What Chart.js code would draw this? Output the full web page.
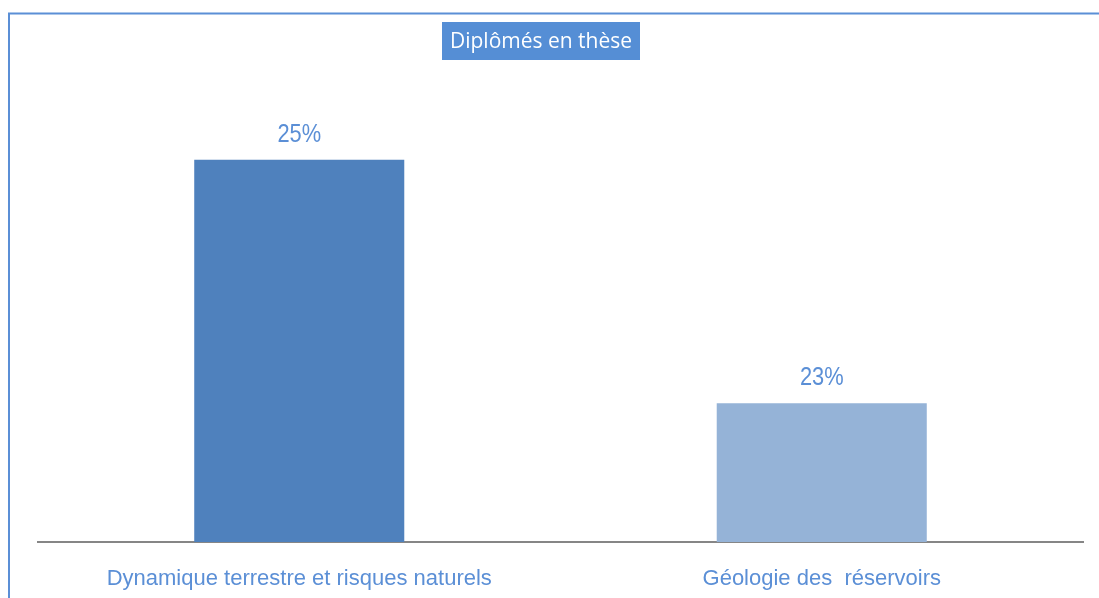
<!DOCTYPE html>
<html>
<head>
<meta charset="utf-8">
<script src="https://cdn.jsdelivr.net/npm/chart.js@4/dist/chart.umd.min.js"></script>
<style>
    html, body { margin: 0; padding: 0; background: #fff; }
    canvas { display: block; }
</style>
</head>
<body>
<canvas id="chart" width="1099" height="598"></canvas>
<script>
// Data
const categories = ['Dynamique terrestre et risques naturels', 'Géologie des  réservoirs'];
const values = [25, 23];
const barColors = ['#4f81bd', '#95b3d7'];
const chartTitle = 'Diplômés en thèse';

const TEXT_BLUE = '#5b8fd6';
const SANS = '"Liberation Sans", Arial, sans-serif';

// Frame + title box
const framePlugin = {
    id: 'frame',
    beforeDraw(chart) {
        const ctx = chart.ctx;
        ctx.save();
        ctx.strokeStyle = TEXT_BLUE;
        ctx.lineWidth = 2;
        ctx.beginPath();
        ctx.moveTo(9, chart.height);
        ctx.lineTo(9, 13.5);
        ctx.lineTo(chart.width, 13.5);
        ctx.stroke();

        // title box
        ctx.fillStyle = '#558ed5';
        ctx.fillRect(442, 22, 198, 38);
        ctx.fillStyle = '#ffffff';
        ctx.font = '21px "Open Sans", "Noto Sans", sans-serif';
        ctx.textAlign = 'center';
        ctx.textBaseline = 'alphabetic';
        ctx.fillText(chartTitle, 541, 48);
        ctx.restore();
    }
};

// Value labels above the bars (a bit condensed like the original)
const valueLabels = {
    id: 'valueLabels',
    afterDatasetsDraw(chart) {
        const ctx = chart.ctx;
        const meta = chart.getDatasetMeta(0);
        ctx.save();
        ctx.fillStyle = TEXT_BLUE;
        ctx.font = '26px ' + SANS;
        ctx.textAlign = 'center';
        ctx.textBaseline = 'alphabetic';
        meta.data.forEach((bar, i) => {
            ctx.save();
            ctx.translate(bar.x, bar.y - 18);
            ctx.scale(0.84, 1);
            ctx.fillText(values[i] + '%', 0, 0);
            ctx.restore();
        });
        ctx.restore();
    }
};

new Chart(document.getElementById('chart'), {
    type: 'bar',
    data: {
        labels: categories,
        datasets: [{
            data: values,
            backgroundColor: barColors,
            borderWidth: 0,
            categoryPercentage: 1,
            barPercentage: 0.402
        }]
    },
    options: {
        responsive: false,
        animation: false,
        layout: {
            padding: { left: 38, right: 16, top: 100, bottom: 0 }
        },
        plugins: {
            legend: { display: false },
            tooltip: { enabled: false }
        },
        scales: {
            x: {
                grid: { display: false },
                border: { display: true, color: '#868686', width: 2 },
                ticks: {
                    color: TEXT_BLUE,
                    font: { size: 22, family: SANS },
                    padding: 16,
                    maxRotation: 0,
                    autoSkip: false
                },
                afterFit(scale) {
                    scale.height = 56;
                }
            },
            y: {
                display: false,
                min: 21.86,
                max: 25.49
            }
        }
    },
    plugins: [framePlugin, valueLabels]
});
</script>
</body>
</html>
